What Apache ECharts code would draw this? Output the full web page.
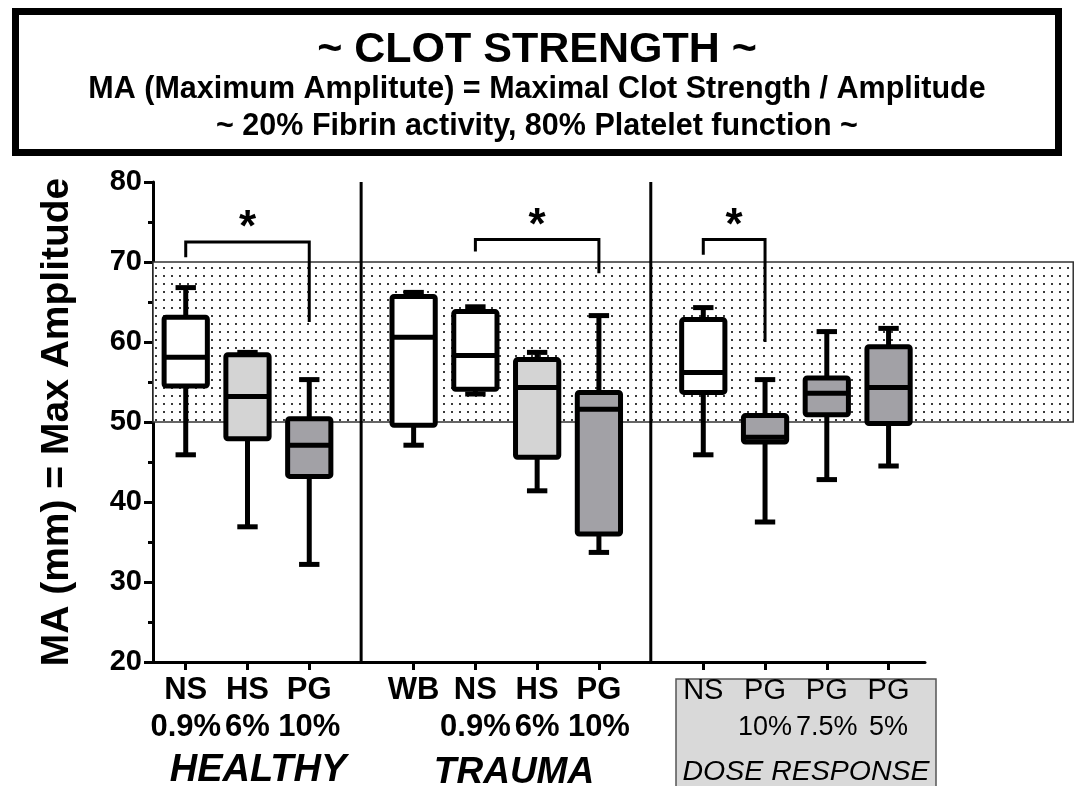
<!DOCTYPE html>
<html>
<head>
<meta charset="utf-8">
<script src="https://cdn.jsdelivr.net/npm/echarts@6/dist/echarts.min.js"></script>
<style>
  html, body { margin: 0; padding: 0; background: #fff; }
  #chart { width: 1076px; height: 786px; }
</style>
</head>
<body>
<div id="chart"></div>
<script>
const FONT = '"Liberation Sans", Arial, sans-serif';

// box slots on the x scale (1 unit = one box slot), and the group dividers
const slotPos = [0.53, 1.53, 2.53, 4.22, 5.22, 6.22, 7.22, 8.91, 9.91, 10.91, 11.91];
const dividerPos = [3.37, 8.06];
const bandEndX = 14.9;

// tick labels
const labelTop = ['NS', 'HS', 'PG', 'WB', 'NS', 'HS', 'PG', 'NS', 'PG', 'PG', 'PG'];
const labelPct = ['0.9%', '6%', '10%', '', '0.9%', '6%', '10%', '', '10%', '7.5%', '5%'];

// MA (mm), five number summary per box
const whiskerLow = [45.9, 36.9, 32.2, 47.1, 53.5, 41.4, 33.7, 45.9, 37.5, 42.8, 44.5];
const q1 = [54.5, 47.9, 43.2, 49.6, 54.1, 45.6, 36.0, 53.7, 47.5, 50.9, 49.8];
const median = [58.1, 53.2, 47.1, 60.6, 58.3, 54.3, 51.6, 56.2, 48.1, 53.6, 54.3];
const q3 = [63.1, 58.4, 50.4, 65.7, 63.8, 57.8, 53.7, 62.8, 50.8, 55.5, 59.4];
const whiskerHigh = [66.8, 58.7, 55.3, 66.2, 64.4, 58.7, 63.3, 64.3, 55.3, 61.3, 61.7];
const solution = ['NS', 'HS', 'PG', 'WB', 'NS', 'HS', 'PG', 'NS', 'PG', 'PG', 'PG'];

// normal MA range
const normalRange = [50, 70];

// significance brackets (box index from/to, bracket height, leg ends)
const sigFrom = [0, 4, 7];
const sigTo = [2, 6, 8];
const sigTop = [72.5, 72.8, 72.8];
const sigLegFrom = [70.6, 71.3, 70.9];
const sigLegTo = [62.5, 68.6, 60.0];

const fillBySolution = { NS: '#ffffff', WB: '#ffffff', HS: '#d4d4d4', PG: '#a2a1a6' };

// dotted pattern for the normal range band
const dotCanvas = document.createElement('canvas');
dotCanvas.width = 8;
dotCanvas.height = 8;
const dctx = dotCanvas.getContext('2d');
dctx.fillStyle = '#ffffff';
dctx.fillRect(0, 0, 8, 8);
dctx.fillStyle = '#3a3a3a';
dctx.fillRect(3, 3, 2, 2);

const chart = echarts.init(document.getElementById('chart'));

function renderBox(params, api) {
  const x = api.value(0);
  const cx = api.coord([x, 20])[0];
  const half = api.size([0.7, 0])[0] / 2;
  const cap = api.size([0.33, 0])[0] / 2;
  const yLo = api.coord([x, api.value(1)])[1];
  const yQ1 = api.coord([x, api.value(2)])[1];
  const yMed = api.coord([x, api.value(3)])[1];
  const yQ3 = api.coord([x, api.value(4)])[1];
  const yHi = api.coord([x, api.value(5)])[1];
  const line = { stroke: '#000', lineWidth: 5 };
  return {
    type: 'group',
    children: [
      { type: 'line', shape: { x1: cx, y1: yHi, x2: cx, y2: yQ3 }, style: line },
      { type: 'line', shape: { x1: cx - cap, y1: yHi, x2: cx + cap, y2: yHi }, style: line },
      { type: 'line', shape: { x1: cx, y1: yLo, x2: cx, y2: yQ1 }, style: line },
      { type: 'line', shape: { x1: cx - cap, y1: yLo, x2: cx + cap, y2: yLo }, style: line },
      {
        type: 'rect',
        shape: { x: cx - half, y: yQ3, width: half * 2, height: yQ1 - yQ3, r: 2 },
        style: { fill: fillBySolution[solution[params.dataIndex]], stroke: '#000', lineWidth: 5, lineJoin: 'round' }
      },
      { type: 'line', shape: { x1: cx - half, y1: yMed, x2: cx + half, y2: yMed }, style: line }
    ]
  };
}

function renderBand(params, api) {
  const p1 = api.coord([api.value(0), api.value(3)]);
  const p2 = api.coord([api.value(1), api.value(2)]);
  return {
    type: 'rect',
    shape: { x: p1[0], y: p1[1], width: p2[0] - p1[0], height: p2[1] - p1[1] },
    style: { fill: { image: dotCanvas, repeat: 'repeat' }, stroke: '#333', lineWidth: 1.5 }
  };
}

function renderDivider(params, api) {
  const a = api.coord([api.value(0), 80]);
  const b = api.coord([api.value(0), 20]);
  return { type: 'line', shape: { x1: a[0], y1: a[1], x2: b[0], y2: b[1] }, style: { stroke: '#000', lineWidth: 3 } };
}

function renderBracket(params, api) {
  const x1 = api.value(0), x2 = api.value(1), top = api.value(2);
  const pts = [
    api.coord([x1, api.value(3)]),
    api.coord([x1, top]),
    api.coord([x2, top]),
    api.coord([x2, api.value(4)])
  ];
  const star = api.coord([(x1 + x2) / 2, top + 1.6]);
  return {
    type: 'group',
    children: [
      { type: 'polyline', shape: { points: pts }, style: { stroke: '#000', lineWidth: 3, fill: null } },
      {
        type: 'text', x: star[0], y: star[1],
        style: { text: '*', fontSize: 44, fontWeight: 'bold', fontFamily: FONT, fill: '#000', align: 'center', verticalAlign: 'middle' }
      }
    ]
  };
}

function labelFor(v) {
  const i = slotPos.findIndex(p => Math.abs(p - v) < 1e-6);
  if (i < 0) return '';
  const dose = i >= 7;
  let s = '{' + (dose ? 'd' : 'h') + '|' + labelTop[i] + '}';
  if (labelPct[i]) s += '\n{' + (dose ? 'dp' : 'h') + '|' + labelPct[i] + '}';
  return s;
}

const option = {
  backgroundColor: '#fff',
  animation: false,
  grid: { left: 153, right: 151, top: 182, bottom: 124, outerBoundsMode: 'none' },
  xAxis: {
    type: 'value',
    min: 0,
    max: 12.5,
    splitLine: { show: false },
    axisLine: { show: true, lineStyle: { color: '#000', width: 3 } },
    axisTick: { show: true, customValues: slotPos, length: 8, lineStyle: { color: '#000', width: 3 } },
    axisLabel: {
      customValues: slotPos,
      margin: 10,
      showMinLabel: true,
      showMaxLabel: true,
      hideOverlap: false,
      formatter: labelFor,
      rich: {
        h: { fontSize: 31, fontWeight: 'bold', fontFamily: FONT, color: '#000', lineHeight: 37 },
        d: { fontSize: 29, fontFamily: FONT, color: '#000', lineHeight: 37 },
        dp: { fontSize: 27, fontFamily: FONT, color: '#000', lineHeight: 37 }
      }
    }
  },
  yAxis: {
    type: 'value',
    min: 20,
    max: 80,
    interval: 10,
    name: 'MA (mm) = Max Amplitude',
    nameLocation: 'middle',
    nameGap: 76,
    nameTextStyle: { fontSize: 39, fontWeight: 'bold', fontFamily: FONT, color: '#000' },
    splitLine: { show: false },
    axisLine: { show: true, lineStyle: { color: '#000', width: 3 } },
    axisTick: { show: true, length: 9, lineStyle: { color: '#000', width: 3 } },
    minorTick: { show: true, splitNumber: 2, length: 5, lineStyle: { color: '#000', width: 3 } },
    axisLabel: { margin: 11, fontSize: 29, fontWeight: 'bold', fontFamily: FONT, color: '#000' }
  },
  graphic: [
    {
      type: 'rect', z: -10,
      shape: { x: 676, y: 679, width: 260, height: 120 },
      style: { fill: '#d9d9d9', stroke: '#555', lineWidth: 1.5 }
    },
    {
      type: 'rect',
      shape: { x: 15.5, y: 11.5, width: 1043, height: 141 },
      style: { fill: '#fff', stroke: '#000', lineWidth: 7 }
    },
    { type: 'text', x: 537, y: 50, style: { text: '~ CLOT STRENGTH ~', fontSize: 43, fontWeight: 'bold', fontFamily: FONT, fill: '#000', align: 'center', verticalAlign: 'middle' } },
    { type: 'text', x: 537, y: 90, style: { text: 'MA (Maximum Amplitute) = Maximal Clot Strength / Amplitude', fontSize: 30.5, fontWeight: 'bold', fontFamily: FONT, fill: '#000', align: 'center', verticalAlign: 'middle' } },
    { type: 'text', x: 537, y: 127, style: { text: '~ 20% Fibrin activity, 80% Platelet function ~', fontSize: 30.5, fontWeight: 'bold', fontFamily: FONT, fill: '#000', align: 'center', verticalAlign: 'middle' } },
    { type: 'text', x: 258, y: 771, style: { text: 'HEALTHY', fontSize: 38, fontWeight: 'bold', fontStyle: 'italic', fontFamily: FONT, fill: '#000', align: 'center', verticalAlign: 'middle' } },
    { type: 'text', x: 514, y: 773, style: { text: 'TRAUMA', fontSize: 37, fontWeight: 'bold', fontStyle: 'italic', fontFamily: FONT, fill: '#000', align: 'center', verticalAlign: 'middle' } },
    { type: 'text', x: 806, y: 772, style: { text: 'DOSE RESPONSE', fontSize: 28.5, fontStyle: 'italic', fontFamily: FONT, fill: '#000', align: 'center', verticalAlign: 'middle' } },
    { type: 'text', x: 1004, y: 285, style: { text: 'Normal', fontSize: 30, fontFamily: FONT, fill: '#111', align: 'center', verticalAlign: 'middle' } },
    { type: 'text', x: 1003, y: 320, style: { text: 'Range', fontSize: 30, fontFamily: FONT, fill: '#111', align: 'center', verticalAlign: 'middle' } }
  ],
  series: [
    {
      name: 'normal range',
      type: 'custom',
      z: 1,
      silent: true,
      renderItem: renderBand,
      data: [[0, bandEndX, normalRange[0], normalRange[1]]]
    },
    {
      name: 'dividers',
      type: 'custom',
      z: 2,
      silent: true,
      renderItem: renderDivider,
      data: dividerPos.map(x => [x])
    },
    {
      name: 'significance',
      type: 'custom',
      z: 2,
      silent: true,
      renderItem: renderBracket,
      data: sigFrom.map((f, i) => [slotPos[f], slotPos[sigTo[i]], sigTop[i], sigLegFrom[i], sigLegTo[i]])
    },
    {
      name: 'MA',
      type: 'custom',
      z: 3,
      renderItem: renderBox,
      encode: { x: 0, y: [1, 2, 3, 4, 5] },
      data: slotPos.map((x, i) => [x, whiskerLow[i], q1[i], median[i], q3[i], whiskerHigh[i]])
    }
  ]
};

chart.setOption(option);
</script>
</body>
</html>
